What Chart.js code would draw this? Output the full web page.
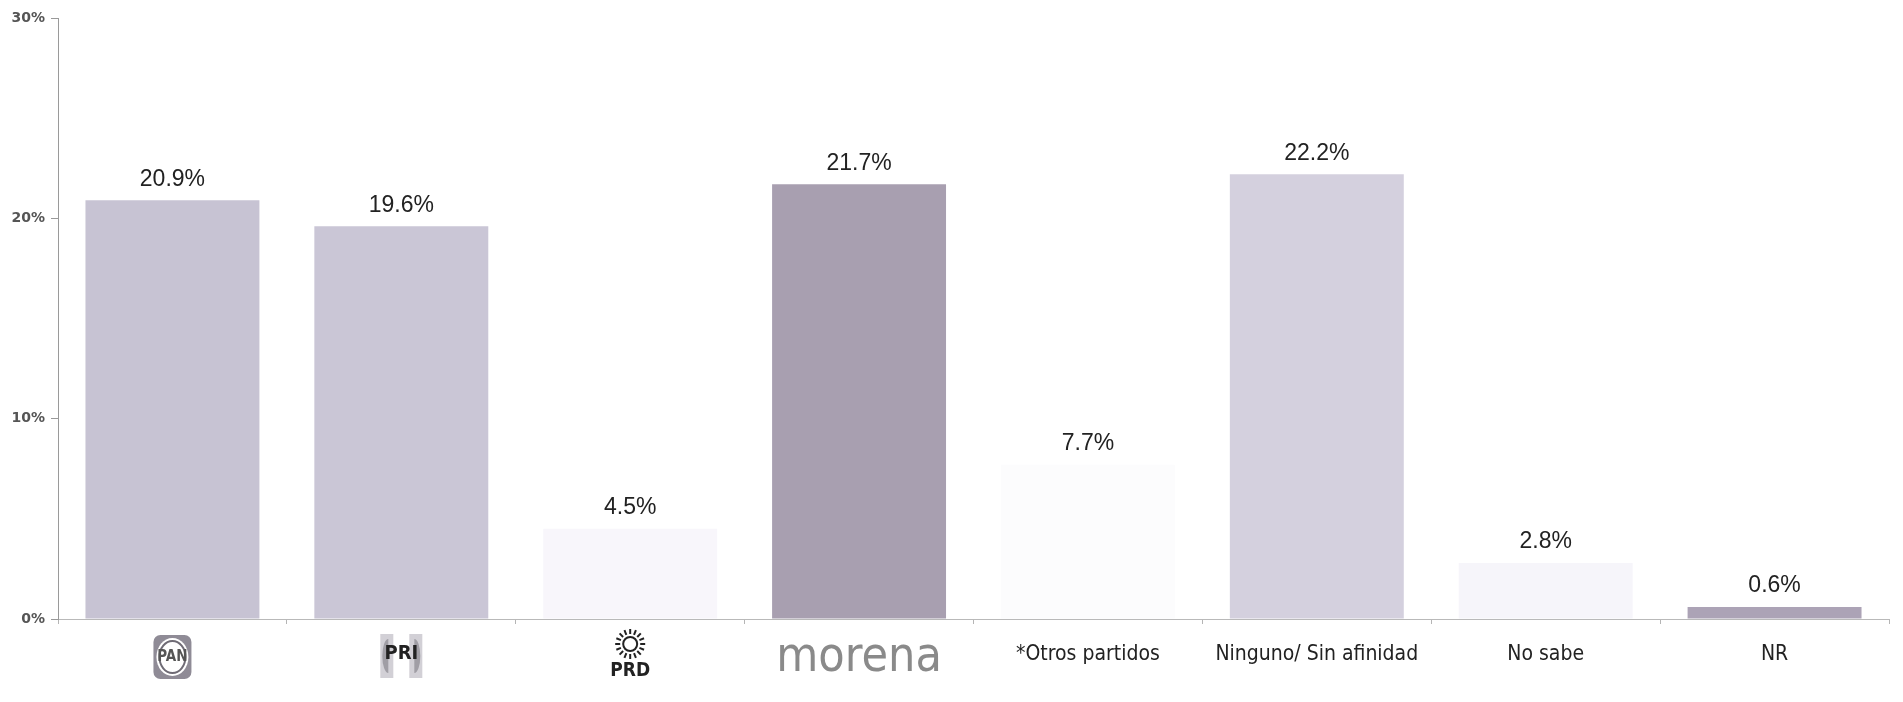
<!DOCTYPE html>
<html>
<head>
<meta charset="utf-8">
<script src="https://cdn.jsdelivr.net/npm/chart.js@4"></script>
<style>
  html, body { margin: 0; padding: 0; background: #fff; }
  #wrap { width: 1903px; height: 702px; }
</style>
</head>
<body>
<div id="wrap"><canvas id="myChartBar"></canvas></div>
<script>
const categorias = ['PAN', 'PRI', 'PRD', 'morena', '*Otros partidos', 'Ninguno/ Sin afinidad', 'No sabe', 'NR'];
const valores = [20.9, 19.6, 4.5, 21.7, 7.7, 22.2, 2.8, 0.6];
const colores = ['#c7c3d3', '#cac6d6', '#f8f6fb', '#a89fb0', '#fcfcfd', '#d4d0de', '#f6f5fa', '#aca3b6'];
const yTicks = [0, 10, 20, 30];

const narrow = "'Liberation Sans Narrow', 'DejaVu Sans Condensed', sans-serif";

// label fonts per category (logos get their own look)
function tickFont(ctx) {
  const i = ctx.index;
  if (i === 0) return { family: narrow, size: 15, weight: 'bold', lineHeight: 62 / 15 };
  if (i === 1) return { family: narrow, size: 20, weight: 'bold', lineHeight: 56 / 20 };
  if (i === 2) return { family: narrow, size: 19, weight: 'bold', lineHeight: 90 / 19 };
  if (i === 3) return { family: narrow, size: 48, lineHeight: 66 / 48 };
  return { family: narrow, size: 21, lineHeight: 58 / 21 };
}
function tickColor(ctx) {
  if (ctx.index === 3) return '#8a8a8a';
  if (ctx.index === 0) return '#555';
  return '#222';
}

// logo backgrounds drawn under the tick text
const logos = {
  id: 'logos',
  beforeDraw(chart) {
    const x = chart.scales.x;
    const c = chart.ctx;
    c.save();
    // PAN
    let px = x.getPixelForTick(0);
    c.fillStyle = '#8f8b96';
    c.beginPath();
    c.roundRect(px - 19, 635, 38, 44, 7);
    c.fill();
    c.fillStyle = '#fff';
    c.beginPath();
    c.ellipse(px, 657, 16, 19, 0, 0, Math.PI * 2);
    c.fill();
    c.strokeStyle = '#6f6b75';
    c.lineWidth = 2;
    c.beginPath();
    c.ellipse(px, 657, 13, 16, 0, 0, Math.PI * 2);
    c.stroke();
    // PRI
    px = x.getPixelForTick(1);
    c.fillStyle = '#d2d0d6';
    c.fillRect(px - 21, 634, 13, 44);
    c.fillRect(px + 8, 634, 13, 44);
    c.fillStyle = '#a09ea5';
    c.beginPath();
    c.ellipse(px - 13, 656, 6, 17, 0, Math.PI / 2, Math.PI * 1.5);
    c.fill();
    c.beginPath();
    c.ellipse(px + 13, 656, 6, 17, 0, -Math.PI / 2, Math.PI / 2);
    c.fill();
    // PRD sun
    px = x.getPixelForTick(2);
    const cy = 644;
    c.strokeStyle = '#222';
    c.lineWidth = 2;
    c.beginPath();
    c.arc(px, cy, 7, 0, Math.PI * 2);
    c.stroke();
    for (let k = 0; k < 16; k++) {
      const a = (k / 16) * Math.PI * 2;
      c.beginPath();
      c.moveTo(px + Math.cos(a) * 10, cy + Math.sin(a) * 10);
      c.lineTo(px + Math.cos(a) * 15, cy + Math.sin(a) * 15);
      c.stroke();
    }
    c.restore();
  }
};

// value labels above bars
const valueLabels = {
  id: 'valueLabels',
  afterDatasetsDraw(chart) {
    const c = chart.ctx;
    const meta = chart.getDatasetMeta(0);
    c.save();
    c.font = "23px 'Liberation Sans', Arial, sans-serif";
    c.fillStyle = '#222';
    c.textAlign = 'center';
    c.textBaseline = 'middle';
    meta.data.forEach((bar, i) => {
      c.fillText(valores[i].toFixed(1) + '%', bar.x, bar.y - 21);
    });
    c.restore();
  }
};

const myChartBar = document.getElementById('myChartBar');

new Chart(myChartBar, {
  type: 'bar',
  data: {
    labels: categorias,
    datasets: [{
      data: valores,
      backgroundColor: colores,
      borderWidth: 0,
      categoryPercentage: 1,
      barPercentage: 0.76
    }]
  },
  plugins: [logos, valueLabels],
  options: {
    responsive: true,
    maintainAspectRatio: false,
    animation: false,
    layout: { padding: { top: 18, right: 14, bottom: 0, left: 0 } },
    plugins: {
      legend: { display: false },
      tooltip: { enabled: false }
    },
    scales: {
      x: {
        grid: { display: true, drawOnChartArea: false, drawTicks: true, tickLength: 5, color: '#b5b5b5', offset: true },
        border: { color: '#b9b9b9', width: 1 },
        ticks: { padding: 2, maxRotation: 0, autoSkip: false, font: tickFont, color: tickColor },
        afterFit(scale) { scale.height = 83; }
      },
      y: {
        min: 0,
        max: 30,
        afterBuildTicks(scale) { scale.ticks = yTicks.map(v => ({ value: v })); },
        grid: { display: true, drawOnChartArea: false, drawTicks: true, tickLength: 7, color: '#999' },
        border: { color: '#9a9a9a', width: 1 },
        ticks: {
          padding: 6,
          color: '#555',
          font: { family: "'DejaVu Sans', sans-serif", size: 14, weight: 'bold' },
          callback: v => v + '%'
        },
        afterFit(scale) { scale.width = 58; }
      }
    }
  }
});
</script>
</body>
</html>
